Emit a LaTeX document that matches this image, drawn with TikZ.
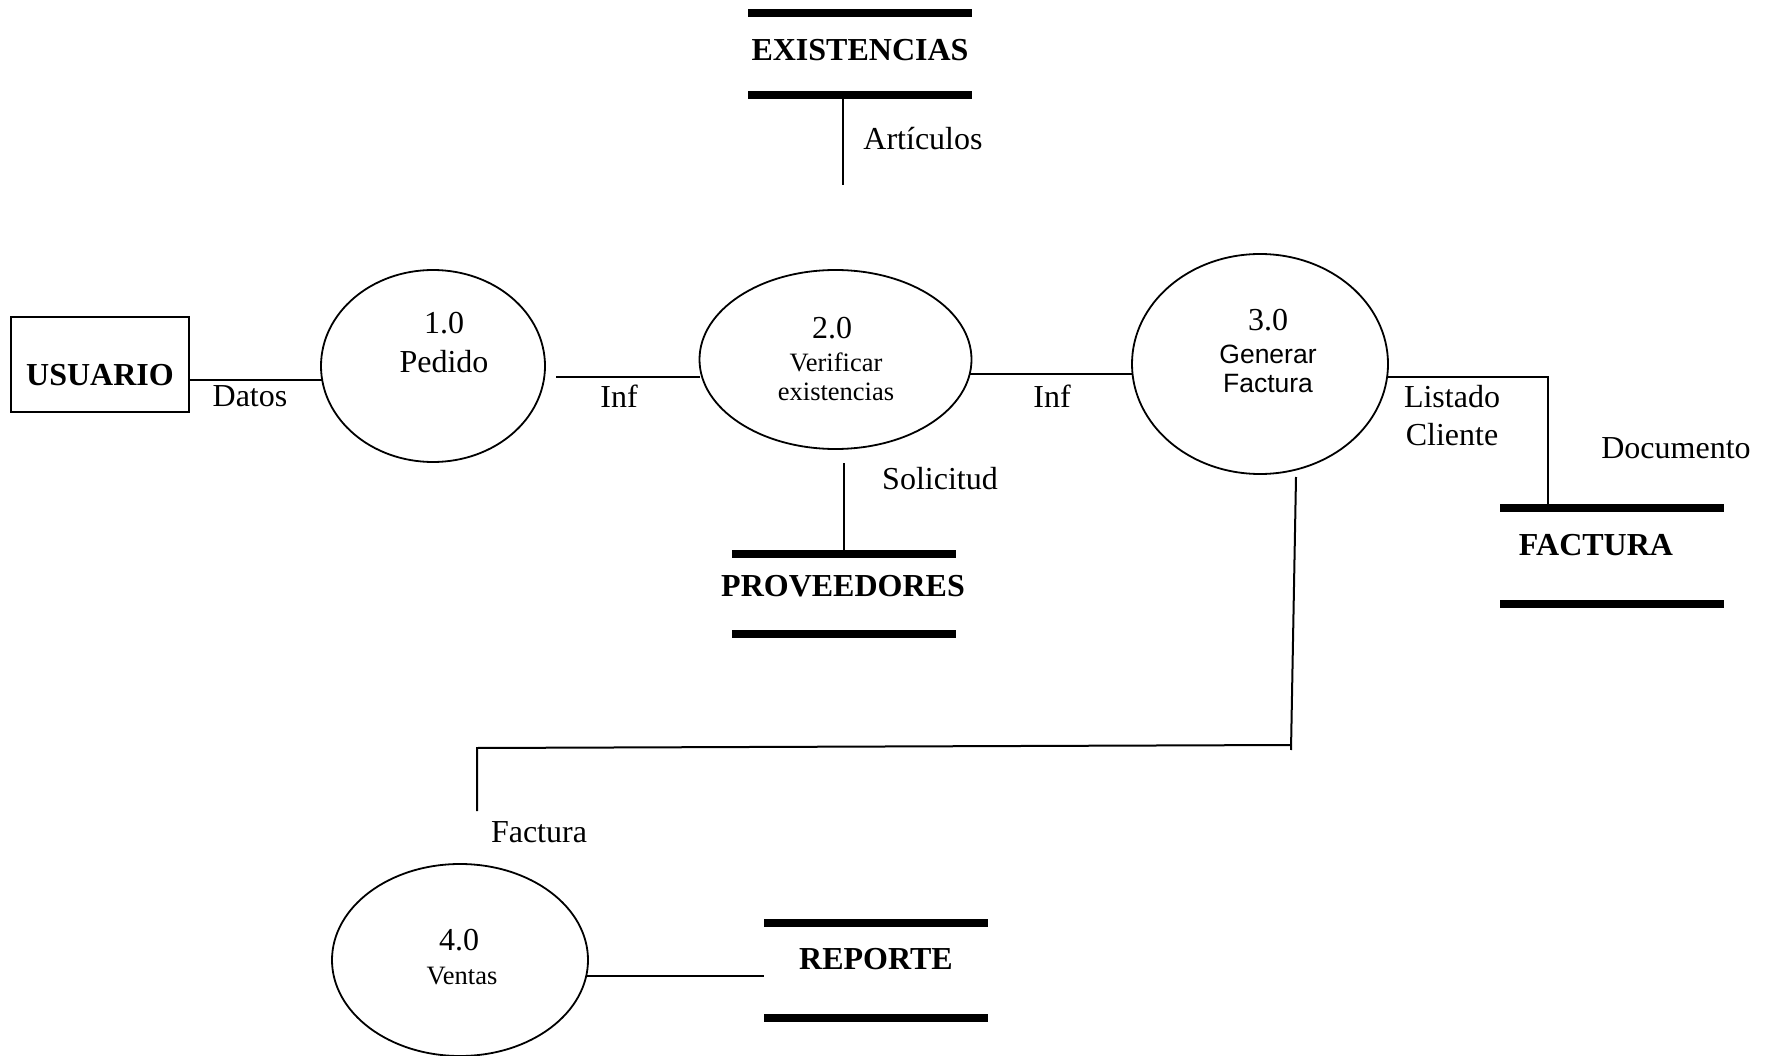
\documentclass[tikz,border=0pt]{standalone}
\usepackage{fontspec}
\setmainfont{Liberation Serif}
\newfontfamily\arialf{Liberation Sans}
\usetikzlibrary{shapes.geometric}
\begin{document}
\begin{tikzpicture}[x=1pt,y=-1pt,
  txt/.style={font=\fontsize{32}{38}\selectfont, inner sep=0pt},
  txtb/.style={font=\fontsize{32}{38}\selectfont\bfseries, inner sep=0pt},
  txts/.style={font=\fontsize{26.5}{30}\selectfont, inner sep=0pt},
  txtsans/.style={font=\fontsize{26.5}{30}\selectfont\arialf, inner sep=0pt},
  proc/.style={draw, ellipse, line width=1.8pt, inner sep=0pt, outer sep=0pt},
  entity/.style={draw, rectangle, line width=2.6pt, inner sep=0pt, outer sep=0pt},
  storebox/.style={rectangle, inner sep=0pt, outer sep=0pt},
  flow/.style={line width=2pt},
  bar/.style={line width=8pt},
]
\useasboundingbox (0,0) rectangle (1767,1056);

% external entity
\node[entity, minimum width=178pt, minimum height=95pt] (usuario) at (100,364.5) {};
\node[txtb] (usuariot) at (100,375) {USUARIO};

% processes
\node[proc, minimum width=224pt, minimum height=192pt] (p1) at (433,366) {};
\node[txt] (p1a) at (444,323) {1.0};
\node[txt] (p1b) at (444,362) {Pedido};

\node[proc, minimum width=272pt, minimum height=179pt] (p2) at (835.5,359.5) {};
\node[txt] (p2a) at (832,328) {2.0};
\node[txts] (p2b) at (836,362) {Verificar};
\node[txts] (p2c) at (836,392) {existencias};

\node[proc, minimum width=256pt, minimum height=220pt] (p3) at (1260,364) {};
\node[txt] (p3a) at (1268,320) {3.0};
\node[txtsans] (p3b) at (1268,354) {Generar};
\node[txtsans] (p3c) at (1268,384) {Factura};

\node[proc, minimum width=256pt, minimum height=192pt] (p4) at (460,960) {};
\node[txt] (p4a) at (459,940) {4.0};
\node[txts] (p4b) at (462,976) {Ventas};

% data stores
\node[storebox, minimum width=224pt, minimum height=82pt] (existencias) at (860,54.5) {};
\node[txtb] (existt) at (860,50) {EXISTENCIAS};
\node[storebox, minimum width=224pt, minimum height=80pt] (proveedores) at (844,594) {};
\node[txtb] (provt) at (843,586) {PROVEEDORES};
\node[storebox, minimum width=224pt, minimum height=96pt] (factura) at (1612,555.5) {};
\node[txtb] (factt) at (1596,545) {FACTURA};
\node[storebox, minimum width=224pt, minimum height=95pt] (reporte) at (876,970) {};
\node[txtb] (rept) at (876,959) {REPORTE};

\foreach \s in {existencias,proveedores,factura,reporte}{
  \draw[bar] (\s.north west) -- (\s.north east);
  \draw[bar] (\s.south west) -- (\s.south east);
}

% connectors
\draw[flow] (p1.187.7) -- (p1.187.7 -| usuario.east);
\coordinate (g12) at (556,377.5);
\draw[flow] (g12) -- (g12 -| p2.west);
\draw[flow] (p2.-6.8) -- (p2.-6.8 -| p3.west);
\coordinate (fk) at (1548,377);
\draw[flow] (fk -| p3.east) -- (fk) -- (fk |- factura.north);
\coordinate (art) at (843,185);
\draw[flow] (art |- existencias.south) -- (art);
\coordinate (sol) at (844,463);
\draw[flow] (sol) -- (sol |- proveedores.north);
\coordinate (v1) at (1296,477);
\coordinate (v2) at (1291,750);
\coordinate (h1) at (1291,745);
\coordinate (h2) at (477,748);
\coordinate (h3) at (477,811);
\draw[flow] (v1) -- (v2);
\draw[flow] (h1) -- (h2) -- (h3);
\draw[flow] (p4.-7.7) -- (p4.-7.7 -| reporte.west);

% labels
\node[txt] (ldatos) at (250,396) {Datos};
\node[txt] (linf1) at (619,396) {Inf};
\node[txt] (linf2) at (1052,396) {Inf};
\node[txt] (lart) at (923,139) {Artículos};
\node[txt] (lsol) at (940,479) {Solicitud};
\node[txt] (llis) at (1452,397) {Listado};
\node[txt] (lcli) at (1452,435) {Cliente};
\node[txt] (ldoc) at (1676,448) {Documento};
\node[txt] (lfac) at (539,832) {Factura};
\end{tikzpicture}
\end{document}
